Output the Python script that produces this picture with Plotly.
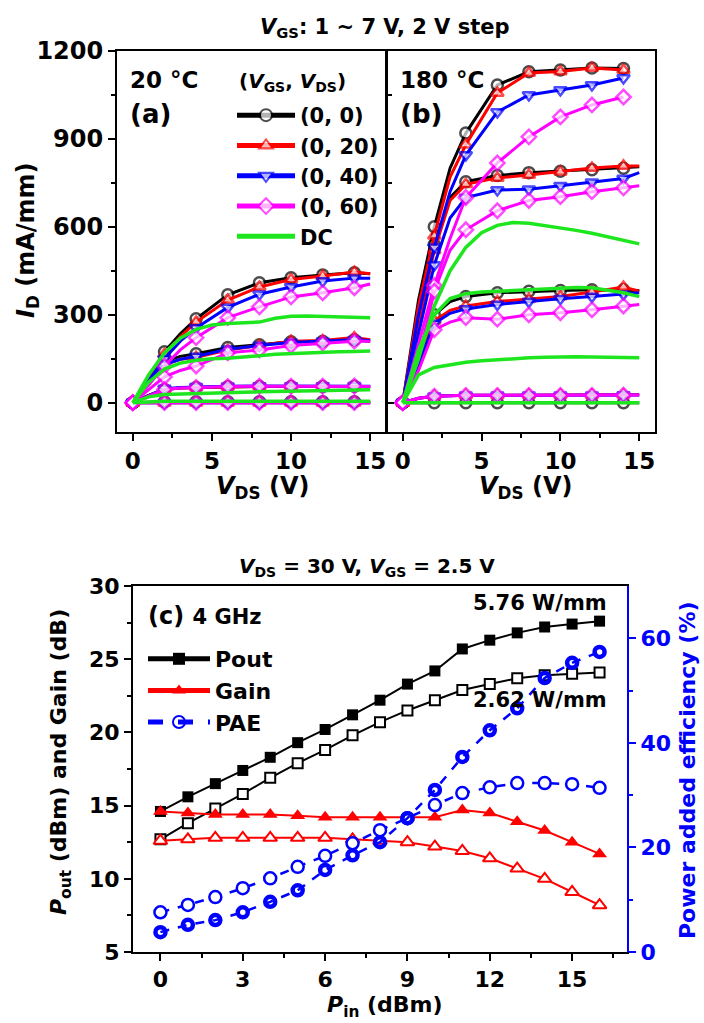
import plotly.graph_objects as go

# ---------------- data: panels (a) and (b) ----------------
VDS = [0, 1, 2, 3, 4, 6, 8, 10, 12, 14, 15]          # pulsed I-V sample points (V)
MARK = [1, 0, 1, 0, 1, 1, 1, 1, 1, 1, 0]             # which points carry a symbol
VDS_DC = list(range(16))                              # DC I-V sample points (V)

# 20 C, curves for VGS = 7, 5, 3, 1 V  (mA/mm)
A_00 = [[0, 85, 174, 235, 286, 368, 409, 426, 436, 443, 440],
        [0, 70, 140, 158, 167, 188, 198, 208, 210, 215, 210],
        [0, 25, 45, 50, 52, 54, 55, 55, 55, 56, 55],
        [0, 2, 3, 3, 3, 3, 3, 3, 3, 3, 3]]
A_20 = [[0, 80, 165, 225, 275, 350, 395, 420, 432, 446, 440],
        [0, 65, 130, 148, 155, 180, 195, 210, 212, 222, 215],
        [0, 25, 45, 50, 52, 54, 55, 55, 55, 56, 55],
        [0, 0, 0, 0, 0, 0, 0, 0, 0, 0, 0]]
A_40 = [[0, 75, 150, 210, 255, 325, 370, 395, 415, 425, 425],
        [0, 65, 130, 148, 158, 182, 195, 205, 210, 215, 212],
        [0, 25, 48, 52, 54, 56, 57, 57, 57, 58, 56],
        [0, 0, 0, 0, 0, 0, 0, 0, 0, 0, 0]]
A_60 = [[0, 60, 125, 180, 222, 290, 327, 361, 375, 392, 405],
        [0, 45, 88, 110, 125, 170, 180, 195, 203, 210, 210],
        [0, 22, 45, 50, 52, 55, 56, 56, 56, 57, 55],
        [0, 0, 0, 0, 0, 0, 0, 0, 0, 0, 0]]
A_DC = [[0, 95, 170, 220, 250, 265, 270, 272, 275, 288, 295, 296, 295, 293, 291, 290],
        [0, 70, 115, 135, 145, 150, 152, 155, 160, 165, 168, 170, 172, 174, 175, 176],
        [0, 20, 28, 30, 32, 33, 35, 36, 37, 38, 39, 40, 41, 42, 43, 44],
        [0, 3, 5, 5, 5, 5, 5, 5, 5, 5, 5, 5, 5, 5, 5, 5]]

# 180 C
B_00 = [[0, 350, 600, 800, 920, 1084, 1129, 1135, 1142, 1140, None],
        [0, 280, 540, 700, 754, 775, 785, 790, 795, 800, 805],
        [0, 150, 300, 345, 362, 375, 380, 383, 385, 385, 383],
        [0, 0, 0, 0, 0, 0, 0, 0, 0, 0, 0]]
B_20 = [[0, 330, 570, 770, 880, 1057, 1125, 1130, 1142, 1135, None],
        [0, 270, 520, 690, 745, 767, 777, 788, 801, 808, 808],
        [0, 140, 280, 315, 330, 345, 353, 362, 378, 395, 380],
        [0, 15, 22, 24, 25, 25, 26, 26, 26, 27, 27]]
B_40 = [[0, 300, 530, 720, 845, 992, 1050, 1067, 1084, 1108, None],
        [0, 230, 470, 630, 700, 726, 728, 740, 752, 765, 785],
        [0, 130, 270, 305, 320, 335, 345, 355, 362, 370, 375],
        [0, 15, 22, 24, 25, 25, 25, 25, 25, 26, 26]]
B_60 = [[0, 200, 400, 560, 700, 818, 907, 975, 1016, 1043, None],
        [0, 150, 380, 520, 590, 655, 690, 703, 720, 733, 740],
        [0, 110, 249, 275, 290, 285, 300, 307, 317, 330, 335],
        [0, 15, 22, 24, 25, 25, 25, 25, 25, 26, 26]]
B_DC = [[0, 150, 330, 450, 530, 580, 605, 615, 612, 605, 598, 588, 578, 565, 553, 542],
        [0, 180, 300, 355, 372, 378, 380, 383, 385, 388, 390, 393, 392, 385, 375, 362],
        [0, 95, 120, 130, 138, 143, 147, 150, 153, 155, 157, 157, 156, 155, 154, 153],
        [0, 0, 0, 0, 0, 0, 0, 0, 0, 0, 0, 0, 0, 0, 0, 0]]

SERIES = ["(0, 0)", "(0, 20)", "(0, 40)", "(0, 60)", "DC"]

# ---------------- data: panel (c) ----------------
PIN = list(range(17))
POUT_FILLED = [14.6, 15.6, 16.5, 17.4, 18.3, 19.3, 20.2, 21.2, 22.2, 23.3, 24.2, 25.7, 26.3, 26.8, 27.2, 27.4, 27.6]
POUT_OPEN = [12.7, 13.8, 14.8, 15.8, 16.9, 17.9, 18.8, 19.8, 20.7, 21.5, 22.2, 22.9, 23.3, 23.7, 23.9, 24.0, 24.1]
GAIN_FILLED = [14.6, 14.5, 14.4, 14.4, 14.4, 14.3, 14.2, 14.2, 14.2, 14.2, 14.2, 14.7, 14.5, 13.9, 13.3, 12.5, 11.7]
GAIN_OPEN = [12.6, 12.7, 12.8, 12.8, 12.8, 12.8, 12.8, 12.7, 12.6, 12.5, 12.2, 11.9, 11.4, 10.7, 10.0, 9.1, 8.2]
PAE_FILLED = [3.8, 5.2, 6.1, 7.6, 9.6, 11.8, 15.7, 18.5, 21.0, 25.6, 31.0, 37.3, 42.4, 46.6, 52.4, 55.3, 57.4]
PAE_OPEN = [7.6, 9.0, 10.5, 12.2, 14.1, 16.3, 18.4, 20.8, 23.3, 25.6, 28.1, 30.4, 31.5, 32.3, 32.3, 32.1, 31.4]

# ---------------- styling ----------------
FONT = "DejaVu Sans, Liberation Sans, Arial, sans-serif"
BLACK, RED, BLUE, MAG, GREEN = "#000000", "#ff0000", "#0000ff", "#ff00ff", "#1ee61e"
W, H = 704, 1023


def px_x(p):
    return p / W


def px_y(p):
    return 1 - p / H


def join(xs, curves, msize):
    X, Y, S = [], [], []
    for c in curves:
        X += list(xs) + [None]
        Y += list(c) + [None]
        if msize is not None:
            S += [msize if m else 0 for m in MARK] + [0]
    return X, Y, S


fig = go.Figure()

styles = [
    (BLACK, "circle"),
    (RED, "triangle-up"),
    (BLUE, "triangle-down"),
    (MAG, "diamond"),
]

for panel, (sets, dc, xa, ya) in enumerate([
        ([A_00, A_20, A_40, A_60], A_DC, "x", "y"),
        ([B_00, B_20, B_40, B_60], B_DC, "x2", "y2")]):
    for k, (curves, (col, sym)) in enumerate(zip(sets, styles)):
        X, Y, S = join(VDS, curves, 11)
        fig.add_trace(go.Scatter(
            x=X, y=Y, mode="lines+markers", name=SERIES[k],
            xaxis=xa, yaxis=ya, legend="legend",
            showlegend=(panel == 0),
            line=dict(color=col, width=3),
            marker=dict(symbol=sym, size=S, color="white",
                        line=dict(color=col, width=2.5)),
            connectgaps=False, hoverinfo="skip"))
    X, Y, _ = join(VDS_DC, dc, None)
    fig.add_trace(go.Scatter(
        x=X, y=Y, mode="lines", name=SERIES[4],
        xaxis=xa, yaxis=ya, legend="legend",
        showlegend=(panel == 0),
        line=dict(color=GREEN, width=3.5),
        connectgaps=False, hoverinfo="skip"))

# panel (c)
fig.add_trace(go.Scatter(x=PIN, y=POUT_OPEN, mode="lines+markers", showlegend=False,
                         xaxis="x3", yaxis="y3", line=dict(color=BLACK, width=2),
                         marker=dict(symbol="square", size=10, color="white",
                                     line=dict(color=BLACK, width=2))))
fig.add_trace(go.Scatter(x=PIN, y=POUT_FILLED, mode="lines+markers", name="Pout", legend="legend2",
                         xaxis="x3", yaxis="y3", line=dict(color=BLACK, width=2),
                         marker=dict(symbol="square", size=11, color=BLACK)))
fig.add_trace(go.Scatter(x=PIN, y=GAIN_OPEN, mode="lines+markers", showlegend=False,
                         xaxis="x3", yaxis="y3", line=dict(color=RED, width=2),
                         marker=dict(symbol="triangle-up", size=12, color="white",
                                     line=dict(color=RED, width=2))))
fig.add_trace(go.Scatter(x=PIN, y=GAIN_FILLED, mode="lines+markers", name="Gain", legend="legend2",
                         xaxis="x3", yaxis="y3", line=dict(color=RED, width=2),
                         marker=dict(symbol="triangle-up", size=13, color=RED)))
fig.add_trace(go.Scatter(x=PIN, y=PAE_OPEN, mode="lines+markers", showlegend=False,
                         xaxis="x3", yaxis="y4", line=dict(color=BLUE, width=2.5, dash="dash"),
                         marker=dict(symbol="circle", size=12, color="white",
                                     line=dict(color=BLUE, width=2.5))))
fig.add_trace(go.Scatter(x=PIN, y=PAE_FILLED, mode="lines+markers", name="PAE", legend="legend2",
                         xaxis="x3", yaxis="y4", line=dict(color=BLUE, width=2.5, dash="dash"),
                         marker=dict(symbol="circle-open", size=10, color=BLUE,
                                     line=dict(color=BLUE, width=4.5))))


def tf(size, color=BLACK):
    return dict(family=FONT, size=size, color=color, weight="bold")


common_iv_x = dict(range=[-1, 16], tickvals=[0, 5, 10, 15], ticks="outside", ticklen=7, tickwidth=2,
                   minor=dict(tickvals=[2.5, 7.5, 12.5], ticks="outside", ticklen=4, tickwidth=2, tickcolor=BLACK),
                   showline=True, linewidth=2, linecolor=BLACK, mirror=True, showgrid=False, zeroline=False,
                   tickfont=tf(23), tickcolor=BLACK, automargin=False)
iv_y_major = [0, 300, 600, 900, 1200]
iv_y_minor = [150, 450, 750, 1050]

fig.update_layout(
    width=W, height=H, margin=dict(l=0, r=0, t=0, b=0, autoexpand=False),
    paper_bgcolor="white", plot_bgcolor="white",
    font=dict(family=FONT, color=BLACK),
    xaxis=dict(domain=[px_x(117), px_x(386)], anchor="y", **common_iv_x),
    xaxis2=dict(domain=[px_x(387), px_x(655)], anchor="y2", **common_iv_x),
    yaxis=dict(domain=[px_y(432), px_y(51)], anchor="x", range=[-100, 1200],
               tickvals=iv_y_major, ticks="outside", ticklen=7, tickwidth=2, tickcolor=BLACK,
               minor=dict(tickvals=iv_y_minor, ticks="outside", ticklen=4, tickwidth=2, tickcolor=BLACK),
               showline=True, linewidth=2, linecolor=BLACK, mirror=True, showgrid=False, zeroline=False,
               tickfont=tf(24), automargin=False),
    yaxis2=dict(domain=[px_y(432), px_y(51)], anchor="x2", range=[-100, 1200],
                tickvals=iv_y_major, ticks="inside", ticklen=7, tickwidth=2, tickcolor=BLACK,
                minor=dict(tickvals=iv_y_minor, ticks="inside", ticklen=5, tickwidth=2, tickcolor=BLACK),
                showticklabels=False, automargin=False,
                showline=True, linewidth=2, linecolor=BLACK, mirror=True, showgrid=False, zeroline=False),
    xaxis3=dict(domain=[px_x(133), px_x(627)], anchor="y3", range=[-1, 17],
                tickvals=[0, 3, 6, 9, 12, 15], ticks="outside", ticklen=7, tickwidth=2, tickcolor=BLACK,
                minor=dict(tickvals=[1.5, 4.5, 7.5, 10.5, 13.5, 16.5], ticks="outside", ticklen=4,
                           tickwidth=2, tickcolor=BLACK),
                showline=True, linewidth=2, linecolor=BLACK, mirror=True, showgrid=False, zeroline=False,
                tickfont=tf(22), automargin=False),
    yaxis3=dict(domain=[px_y(952), px_y(586)], anchor="x3", range=[5, 30],
                tickvals=[5, 10, 15, 20, 25, 30], ticks="outside", ticklen=7, tickwidth=2, tickcolor=BLACK,
                minor=dict(tickvals=[7.5, 12.5, 17.5, 22.5, 27.5], ticks="outside", ticklen=4,
                           tickwidth=2, tickcolor=BLACK),
                showline=True, linewidth=2, linecolor=BLACK, mirror=False, showgrid=False, zeroline=False,
                tickfont=tf(22), automargin=False),
    yaxis4=dict(overlaying="y3", side="right", anchor="x3", range=[0, 70],
                tickvals=[0, 20, 40, 60], ticks="outside", ticklen=7, tickwidth=2, tickcolor=BLUE,
                minor=dict(tickvals=[10, 30, 50], ticks="outside", ticklen=4, tickwidth=2, tickcolor=BLUE),
                showline=True, linewidth=2, linecolor=BLUE, showgrid=False, zeroline=False,
                tickfont=tf(22, BLUE), automargin=False),
    legend=dict(x=px_x(232), y=px_y(95), xanchor="left", yanchor="top",
                bgcolor="rgba(0,0,0,0)", font=tf(21), itemsizing="constant",
                itemwidth=58, tracegroupgap=0),
    legend2=dict(x=px_x(143), y=px_y(638), xanchor="left", yanchor="top",
                 bgcolor="rgba(0,0,0,0)", font=tf(22), itemsizing="constant",
                 itemwidth=62, tracegroupgap=0),
)

ann = [
    dict(text="<i>V</i><sub>GS</sub>: 1 ~ 7 V, 2 V step", x=px_x(385), y=px_y(28), font=tf(21)),
    dict(text="20 °C", x=px_x(128), y=px_y(80), xanchor="left", font=tf(23)),
    dict(text="(a)", x=px_x(128), y=px_y(114), xanchor="left", font=tf(26)),
    dict(text="180 °C", x=px_x(398), y=px_y(80), xanchor="left", font=tf(23)),
    dict(text="(b)", x=px_x(398), y=px_y(114), xanchor="left", font=tf(26)),
    dict(text="(<i>V</i><sub>GS</sub>, <i>V</i><sub>DS</sub>)", x=px_x(237), y=px_y(82), xanchor="left", font=tf(20)),
    dict(text="<i>I</i><sub>D</sub> (mA/mm)", x=px_x(27), y=px_y(240), textangle=-90, font=tf(24)),
    dict(text="<i>V</i><sub>DS</sub> (V)", x=px_x(262), y=px_y(487), font=tf(24)),
    dict(text="<i>V</i><sub>DS</sub> (V)", x=px_x(525), y=px_y(487), font=tf(24)),
    dict(text="<i>V</i><sub>DS</sub> = 30 V, <i>V</i><sub>GS</sub> = 2.5 V", x=px_x(367), y=px_y(567), font=tf(20)),
    dict(text="(c) <span style='font-size:21px'>4 GHz</span>", x=px_x(146), y=px_y(616), xanchor="left", font=tf(24)),
    dict(text="5.76 W/mm", x=px_x(609), y=px_y(603), xanchor="right", font=tf(21)),
    dict(text="2.62 W/mm", x=px_x(609), y=px_y(700), xanchor="right", font=tf(21)),
    dict(text="<i>P</i><sub>out</sub> (dBm) and Gain (dB)", x=px_x(60), y=px_y(762), textangle=-90, font=tf(22)),
    dict(text="<i>P</i><sub>in</sub> (dBm)", x=px_x(385), y=px_y(1006), font=tf(22)),
    dict(text="Power added efficiency (%)", x=px_x(687), y=px_y(771), textangle=-90, font=tf(22, BLUE)),
]
for a in ann:
    a.setdefault("xanchor", "center")
    a.update(xref="paper", yref="paper", showarrow=False, yanchor="middle")
fig.update_layout(annotations=ann)

fig.write_html("out.html", config={"displayModeBar": False},
               post_script="document.body.style.margin='0px';")
